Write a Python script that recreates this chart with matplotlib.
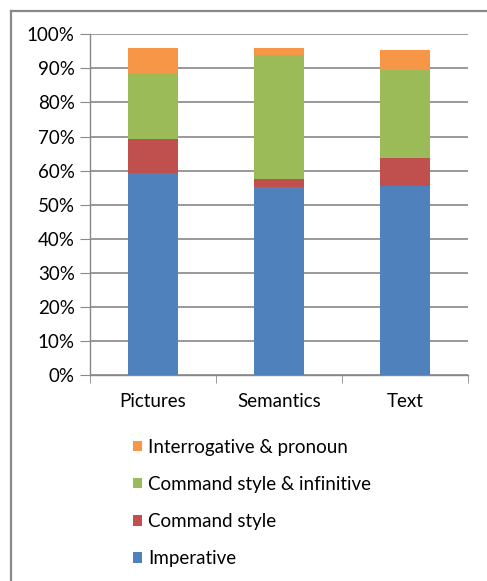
import numpy as np
import matplotlib.pyplot as plt
from matplotlib.patches import Patch
from matplotlib.lines import Line2D
from matplotlib.ticker import PercentFormatter

plt.rcParams['font.family'] = ['Lato', 'DejaVu Sans']

categories = ['Pictures', 'Semantics', 'Text']
series = ['Imperative', 'Command style', 'Command style & infinitive',
          'Interrogative & pronoun']
imperative = [59.4, 55.3, 55.6]
command_style = [10.0, 2.1, 8.0]
command_infinitive = [19.1, 36.5, 26.0]
interrogative = [7.5, 2.1, 5.8]
colors = ['#4f81bd', '#c0504d', '#9bbb59', '#f79646']

fig = plt.figure(figsize=(4.87, 5.81), dpi=100)
ax = fig.add_axes([90 / 487, 206 / 581, 378 / 487, 340.7 / 581])

x = np.arange(len(categories))
bottom = np.zeros(len(categories))
handles = []
for name, vals, c in zip(series, [imperative, command_style, command_infinitive, interrogative], colors):
    ax.bar(x, vals, width=0.4, bottom=bottom, color=c, zorder=3)
    bottom += np.array(vals)
    handles.append(Patch(facecolor=c, label=name))

ax.set_xlim(-0.5, 2.5)
ax.set_ylim(0, 100)
ax.set_yticks(np.arange(0, 101, 10))
ax.yaxis.set_major_formatter(PercentFormatter(decimals=0))
ax.set_xticks(x)
ax.set_xticklabels(categories)
ax.set_xticks([-0.5, 0.5, 1.5, 2.5], minor=True)

fs = 13.5
grid_c = '#888888'
ax.yaxis.grid(True, color=grid_c, linewidth=1.2, zorder=0)
for s in ['top', 'right']:
    ax.spines[s].set_visible(False)
for s in ['left', 'bottom']:
    ax.spines[s].set_color(grid_c)
    ax.spines[s].set_linewidth(1.0)
ax.tick_params(axis='y', length=7, color=grid_c, labelsize=fs, pad=4)
ax.tick_params(axis='x', which='major', length=0, labelsize=fs, pad=13)
ax.tick_params(axis='x', which='minor', length=6, color=grid_c)

fig.legend(handles=handles[::-1], loc='upper left', bbox_to_anchor=(125 / 487, 1 - 431 / 581),
           frameon=False, fontsize=fs, handlelength=0.5, handleheight=0.5,
           handletextpad=0.32, labelspacing=1.08, borderaxespad=0)

# outer chart border
fig.add_artist(Line2D([11 / 487, 11 / 487], [0, 1 - 11 / 581], color=grid_c, linewidth=1.6))
fig.add_artist(Line2D([11 / 487, 1], [1 - 11 / 581, 1 - 11 / 581], color=grid_c, linewidth=1.6))

fig.savefig('out.png', dpi=100)
